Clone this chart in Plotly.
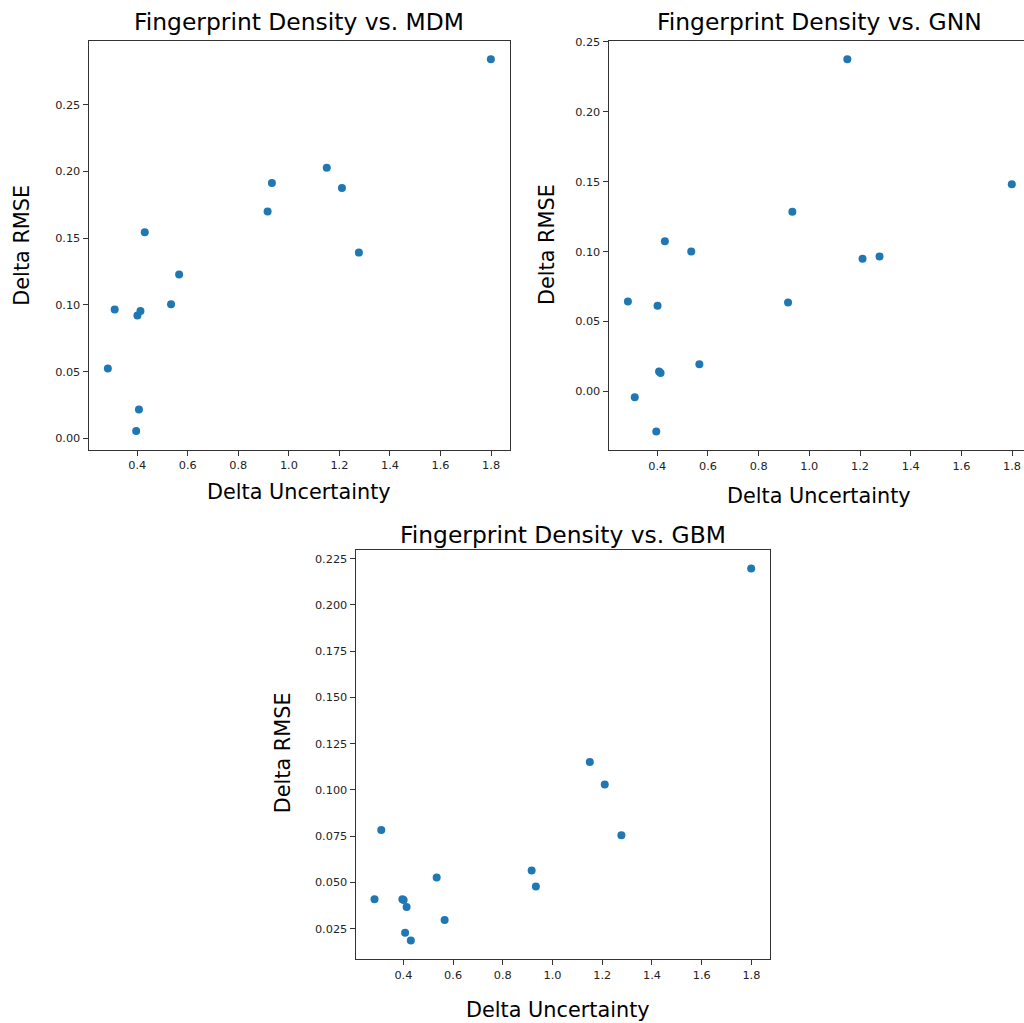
import plotly.graph_objects as go

# ---- data ----
delta_uncertainty = [0.284, 0.311, 0.396, 0.401, 0.407, 0.413, 0.430, 0.534, 0.566,
                     0.916, 0.933, 1.150, 1.210, 1.277, 1.799]
rmse_mdm = [0.0525, 0.0966, 0.0057, 0.0921, 0.0217, 0.0954, 0.1544, 0.1006, 0.1228,
            0.1700, 0.1912, 0.2027, 0.1875, 0.1392, 0.2839]
rmse_gnn = [0.0643, -0.0041, -0.0286, 0.0613, 0.0143, 0.0131, 0.1075, 0.1001, 0.0195,
            0.0636, 0.1285, 0.2376, 0.0949, 0.0965, 0.1482]
rmse_gbm = [0.0410, 0.0784, 0.0410, 0.0405, 0.0228, 0.0367, 0.0187, 0.0527, 0.0297,
            0.0565, 0.0478, 0.1151, 0.1029, 0.0755, 0.2196]

titles = ["Fingerprint Density vs. MDM", "Fingerprint Density vs. GNN",
          "Fingerprint Density vs. GBM"]
x_label = "Delta Uncertainty"
y_label = "Delta RMSE"
x_ticks = [0.4, 0.6, 0.8, 1.0, 1.2, 1.4, 1.6, 1.8]
y_ticks_mdm = [0.00, 0.05, 0.10, 0.15, 0.20, 0.25]
y_ticks_gnn = [0.00, 0.05, 0.10, 0.15, 0.20, 0.25]
y_ticks_gbm = [0.025, 0.050, 0.075, 0.100, 0.125, 0.150, 0.175, 0.200, 0.225]

W, H = 1024, 1023
FONT = "DejaVu Sans"
BLUE = "#1f77b4"
AX = "#333333"


def px_x(p):
    return p / W


def px_y(p):
    return 1 - p / H


def auto_range(vals, m=0.05):
    lo, hi = min(vals), max(vals)
    d = hi - lo
    return [lo - m * d, hi + m * d]


# axes boxes in pixels: (left, right, top, bottom)
boxes = [(88.7, 510.0, 40.7, 449.5),
         (608.7, 1031.0, 40.7, 450.0),
         (355.7, 770.0, 550.0, 959.0)]
ys = [rmse_mdm, rmse_gnn, rmse_gbm]
yticks = [y_ticks_mdm, y_ticks_gnn, y_ticks_gbm]
yfmt = [".2f", ".2f", ".3f"]
title_pos = [(299.4, 22), (819.8, 22), (562.9, 535)]
xlab_pos = [(299.4, 492), (818.7, 496), (558, 1010)]
ylab_pos = [(21.7, 245), (547, 245), (283.3, 753)]

fig = go.Figure()
annotations = []
layout_axes = {}
for i in range(3):
    n = "" if i == 0 else str(i + 1)
    L, R, T, B = boxes[i]
    xr = auto_range(delta_uncertainty)
    yr = auto_range(ys[i])
    Rc = min(R, W)
    xr_vis = [xr[0], xr[0] + (xr[1] - xr[0]) * (Rc - L) / (R - L)]
    fig.add_trace(go.Scatter(
        x=delta_uncertainty, y=ys[i], mode="markers",
        marker=dict(color=BLUE, size=8, line=dict(width=0)),
        xaxis="x" + n, yaxis="y" + n, showlegend=False, hoverinfo="x+y"))
    layout_axes["xaxis" + n] = dict(
        domain=[px_x(L), px_x(Rc)], range=xr_vis, anchor="y" + n, automargin=False,
        tickvals=x_ticks, tickformat=".1f", ticks="outside", ticklen=5,
        tickwidth=1, tickcolor=AX, showline=True, linecolor=AX, linewidth=1.3,
        mirror=True, showgrid=False, zeroline=False,
        tickfont=dict(family=FONT, size=11.3, color="#222"))
    layout_axes["yaxis" + n] = dict(
        domain=[px_y(B), px_y(T)], range=yr, anchor="x" + n, automargin=False,
        tickvals=yticks[i], tickformat=yfmt[i], ticks="outside", ticklen=5,
        tickwidth=1, tickcolor=AX, showline=True, linecolor=AX, linewidth=1.3,
        mirror=(i != 1), showgrid=False, zeroline=False,
        tickfont=dict(family=FONT, size=11.3, color="#222"))
    tx, ty = title_pos[i]
    annotations.append(dict(text=titles[i], x=px_x(tx), y=px_y(ty), xref="paper",
                            yref="paper", xanchor="center", yanchor="middle",
                            showarrow=False, font=dict(family=FONT, size=23.4, color="black")))
    lx, ly = xlab_pos[i]
    annotations.append(dict(text=x_label, x=px_x(lx), y=px_y(ly), xref="paper",
                            yref="paper", xanchor="center", yanchor="middle",
                            showarrow=False, font=dict(family=FONT, size=20.8, color="black")))
    vx, vy = ylab_pos[i]
    annotations.append(dict(text=y_label, x=px_x(vx), y=px_y(vy), xref="paper",
                            yref="paper", xanchor="center", yanchor="middle", textangle=-90,
                            showarrow=False, font=dict(family=FONT, size=20.8, color="black")))

fig.update_layout(
    template="none",
    width=W, height=H, margin=dict(l=0, r=0, t=0, b=0, pad=0, autoexpand=False),
    paper_bgcolor="white", plot_bgcolor="white",
    annotations=annotations, **layout_axes)
fig.update_layout(xaxis2_mirror=True)

fig.write_html("out.html")
